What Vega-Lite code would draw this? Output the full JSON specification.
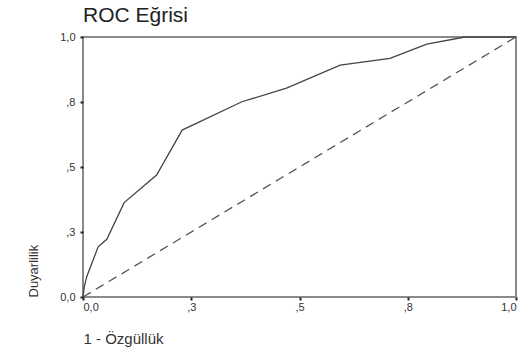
{
  "$schema": "https://vega.github.io/schema/vega-lite/v6.json",
  "width": 433,
  "height": 260,
  "autosize": {"type": "none"},
  "padding": {"left": 83, "top": 37, "right": 9, "bottom": 59},
  "background": "white",
  "title": {
    "text": "ROC Eğrisi",
    "anchor": "start",
    "frame": "group",
    "font": "Liberation Sans",
    "fontSize": 21,
    "fontWeight": "normal",
    "color": "#222",
    "offset": 5
  },
  "config": {
    "view": {"stroke": "#8a8a8a", "strokeWidth": 2},
    "axis": {
      "grid": false,
      "domain": false,
      "ticks": true,
      "tickColor": "#222",
      "tickSize": 3,
      "tickWidth": 2,
      "labelFont": "Liberation Sans",
      "labelFontSize": 11,
      "labelColor": "#333",
      "titleFont": "Liberation Sans",
      "titleFontWeight": "normal",
      "titleColor": "#333"
    }
  },
  "datasets": {
    "roc": [
      {"x": 0.0, "y": 0.0},
      {"x": 0.003, "y": 0.04},
      {"x": 0.009, "y": 0.08},
      {"x": 0.035, "y": 0.193},
      {"x": 0.055, "y": 0.222},
      {"x": 0.095, "y": 0.363},
      {"x": 0.170, "y": 0.469},
      {"x": 0.229, "y": 0.642},
      {"x": 0.367, "y": 0.751},
      {"x": 0.470, "y": 0.803},
      {"x": 0.594, "y": 0.892},
      {"x": 0.709, "y": 0.918},
      {"x": 0.794, "y": 0.973},
      {"x": 0.882, "y": 1.0},
      {"x": 1.0, "y": 1.0}
    ],
    "diag": [
      {"x": 0.0, "y": 0.0},
      {"x": 1.0, "y": 1.0}
    ]
  },
  "layer": [
    {
      "data": {"name": "diag"},
      "mark": {"type": "line", "color": "#555", "strokeWidth": 1.3, "strokeDash": [9, 6]},
      "encoding": {
        "x": {"field": "x", "type": "quantitative"},
        "y": {"field": "y", "type": "quantitative"}
      }
    },
    {
      "data": {"name": "roc"},
      "mark": {"type": "line", "color": "#444", "strokeWidth": 1.3},
      "encoding": {
        "x": {
          "field": "x",
          "type": "quantitative",
          "scale": {"domain": [0, 1], "nice": false},
          "axis": {
            "values": [0, 0.25, 0.5, 0.75, 1],
            "labelExpr": "datum.value == 0 ? '0,0' : datum.value == 1 ? '1,0' : datum.value == 0.25 ? ',3' : datum.value == 0.5 ? ',5' : ',8'",
            "title": "1 - Özgüllük",
            "titleFontSize": 15,
            "titleAnchor": "start",
            "titlePadding": 19,
            "labelPadding": 1
          }
        },
        "y": {
          "field": "y",
          "type": "quantitative",
          "scale": {"domain": [0, 1], "nice": false},
          "axis": {
            "values": [0, 0.25, 0.5, 0.75, 1],
            "labelExpr": "datum.value == 0 ? '0,0' : datum.value == 1 ? '1,0' : datum.value == 0.25 ? ',3' : datum.value == 0.5 ? ',5' : ',8'",
            "title": "Duyarlilik",
            "titleFontSize": 13,
            "titleAnchor": "start",
            "titlePadding": 19,
            "labelPadding": 5
          }
        }
      }
    }
  ]
}
